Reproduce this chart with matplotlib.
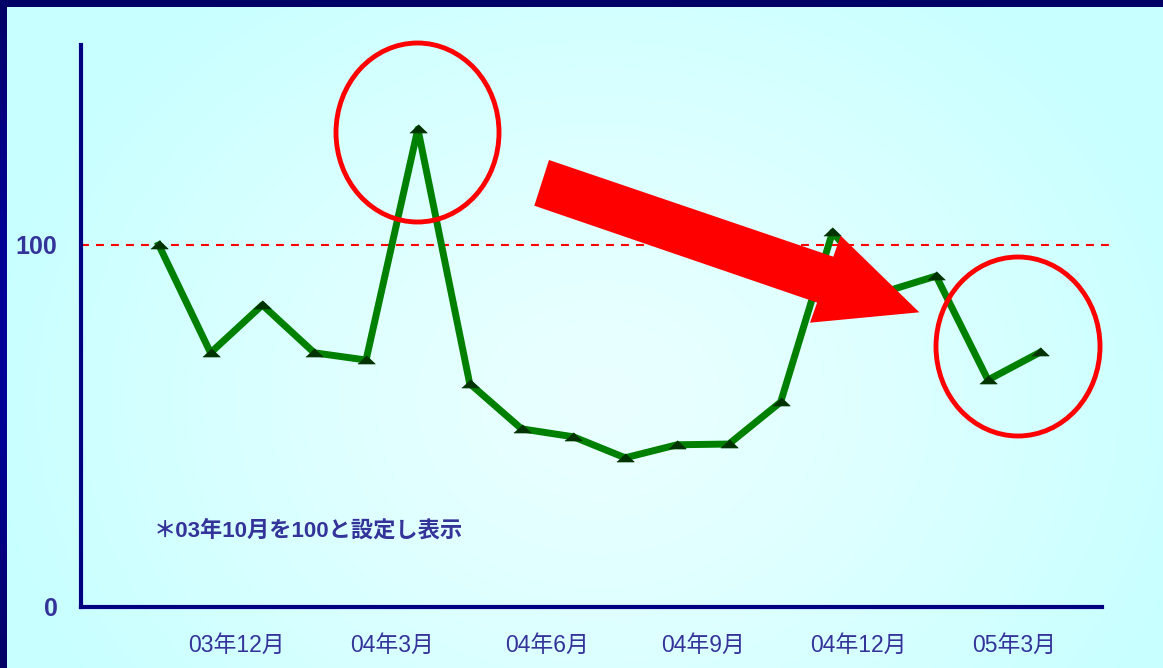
import numpy as np
import matplotlib
matplotlib.use("Agg")
import matplotlib.pyplot as plt
from matplotlib.patches import Ellipse, Polygon

# ---------------- data ----------------
months = ["03年10月", "03年11月", "03年12月", "04年1月", "04年2月", "04年3月",
          "04年4月", "04年5月", "04年6月", "04年7月", "04年8月", "04年9月",
          "04年10月", "04年11月", "04年12月", "05年1月", "05年2月", "05年3月"]
index_values = [100, 70.2, 83.4, 70.2, 68.2, 132.0, 61.7, 49.2, 47.0, 41.2,
                44.8, 45.0, 56.6, 103.5, 87.0, 91.4, 62.7, 70.3]
xtick_labels = ["03年12月", "04年3月", "04年6月", "04年9月", "04年12月", "05年3月"]
xtick_pos = [1.5, 4.5, 7.5, 10.5, 13.5, 16.5]
ytick_vals = [0, 100]
note_text = "＊03年10月を100と設定し表示"

W, H = 1163, 668
fig = plt.figure(figsize=(W / 100, H / 100), dpi=100)

# ---------------- background (gradient + border) ----------------
yy, xx = np.mgrid[0:H, 0:W]
d = np.sqrt(((xx - 600) / 620.0) ** 2 + ((yy - 400) / 520.0) ** 2)
t = np.clip(d, 0, 1) ** 1.3
inner = np.array([234, 255, 255]) / 255.0
outer = np.array([200, 255, 255]) / 255.0
img = inner[None, None, :] * (1 - t[..., None]) + outer[None, None, :] * t[..., None]
# navy border strips (top and left)
img[0:7, :, :] = np.array([0, 0, 102]) / 255.0
yr = np.linspace(0, 1, H)
blue = 102 + 51 * np.sin(np.pi * yr)
img[:, 0:7, 0] = 0
img[:, 0:7, 1] = 0
img[:, 0:7, 2] = (blue / 255.0)[:, None]
img[0:7, 0:7, :] = np.array([0, 0, 102]) / 255.0

bg = fig.add_axes([0, 0, 1, 1], zorder=-10)
bg.imshow(img, aspect="auto", extent=[0, 1, 0, 1], interpolation="bilinear")
bg.axis("off")

# ---------------- main axes ----------------
ax_left, ax_right, ax_top, ax_bottom = 81, 1102, 45, 607
ax = fig.add_axes([ax_left / W, 1 - ax_bottom / H,
                   (ax_right - ax_left) / W, (ax_bottom - ax_top) / H])
ax.set_facecolor("none")
ax.set_xlim(-1.5, 18.2)
ax.set_ylim(0, 155.2)

x = np.arange(len(index_values))
tri = [(-1.0, -0.4), (1.0, -0.4), (0.0, 0.55)]
ax.plot(x, index_values, color="#008000", lw=5, solid_joinstyle="round",
        marker=tri, markersize=12.5, markerfacecolor="#003300",
        markeredgecolor="#003300", markeredgewidth=0.5, zorder=3, clip_on=False)

ax.axhline(100, xmin=0, xmax=(1113 - ax_left) / (ax_right - ax_left),
           color="#FF0000", lw=1.5, linestyle=(0, (3.8, 3.4)), zorder=2, clip_on=False)

for s in ["top", "right"]:
    ax.spines[s].set_visible(False)
for s in ["left", "bottom"]:
    ax.spines[s].set_color("#000080")
    ax.spines[s].set_linewidth(3)

lab_font = ["Liberation Sans", "Noto Sans CJK JP", "DejaVu Sans"]
ax.set_xticks(xtick_pos)
ax.set_xticklabels(xtick_labels, fontfamily=lab_font, fontsize=16.5, color="#333399")
ax.tick_params(axis="x", direction="in", length=1.5, width=1.5, color="#DDDD00", pad=19)
ax.set_yticks(ytick_vals)
ax.set_yticklabels([str(v) for v in ytick_vals], fontfamily=lab_font, fontsize=18,
                   fontweight="bold", color="#333399")
ax.tick_params(axis="y", length=0, pad=17)

# ---------------- annotations (figure pixel coordinates) ----------------
def fpx(px, py):
    return (px / W, 1 - py / H)

tf = fig.transFigure
e1 = Ellipse(fpx(417.5, 132.5), 163 / W, 179 / H, transform=tf, fill=False,
             edgecolor="#FF0000", lw=3.5, zorder=6, clip_on=False)
e2 = Ellipse(fpx(1018, 346.5), 164 / W, 179 / H, transform=tf, fill=False,
             edgecolor="#FF0000", lw=3.5, zorder=6, clip_on=False)
ax.add_patch(e1)
ax.add_patch(e2)

arrow_px = [(549, 160), (833.3, 256.7), (840.7, 235.7), (919.3, 312.3),
            (810, 322.7), (817.1, 302.6), (534.3, 205.7)]
arrow = Polygon([fpx(*p) for p in arrow_px], closed=True, transform=tf,
                facecolor="#FF0000", edgecolor="none", zorder=7, clip_on=False)
ax.add_patch(arrow)

fig.text(154 / W, 1 - 531 / H, note_text, fontfamily=lab_font, fontsize=16,
         fontweight="bold", color="#333399", ha="left", va="center")

fig.savefig("out.png", dpi=100)
